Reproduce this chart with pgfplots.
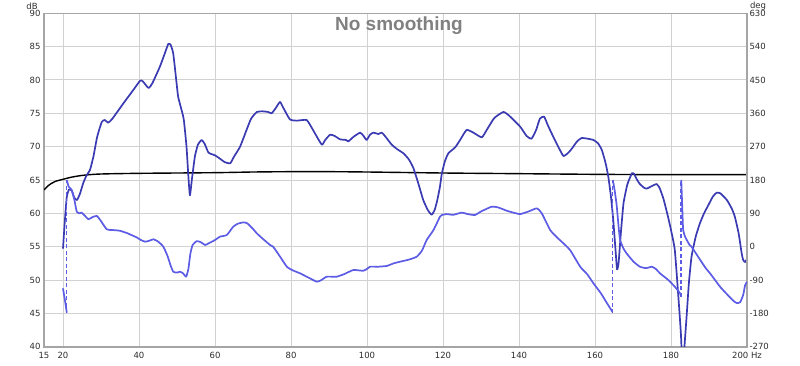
\documentclass[border=0pt]{standalone}
\usepackage{pgfplots}
\pgfplotsset{compat=1.18}
\usepackage{fontspec}
\setmainfont{DejaVu Sans}
\newfontfamily\titlefont{Liberation Sans}
\definecolor{spl}{RGB}{58,58,178}
\definecolor{ph}{RGB}{92,92,228}
\definecolor{gridc}{RGB}{210,210,210}
\definecolor{framec}{RGB}{165,165,165}
\definecolor{tickc}{RGB}{45,45,45}
\definecolor{titlec}{RGB}{128,128,128}
\begin{document}
\begin{tikzpicture}[x=1pt,y=1pt]
\useasboundingbox (0,0) rectangle (800,365);
\begin{axis}[
  at={(44pt,18.3pt)}, anchor=south west,
  scale only axis, width=703pt, height=333.4pt,
  xmin=15, xmax=200, ymin=40, ymax=90,
  xtick={15,20,40,60,80,100,120,140,160,180,200},
  xticklabels={15,20,40,60,80,100,120,140,160,180,200 Hz},
  ytick={40,45,...,90},
  grid=major, major grid style={gridc, line width=1pt},
  axis line style={framec, line width=1.6pt},
  tick style={draw=none},
  ticklabel style={font=\fontsize{8.5}{10}\selectfont, text=tickc},
  /pgf/number format/assume math mode=true,
  xticklabel style={yshift=-1.5pt, text height=6.5pt, text depth=0pt, anchor=north},
]
% black curve
\addplot[black, line width=1.4pt, smooth] coordinates {
(15,63.5) (16,64.1) (17,64.5) (18,64.8) (20,65.1) (22,65.4) (24,65.6) (26,65.75) (30,65.9) (40,66.0) (60,66.1) (70,66.2) (80,66.25) (90,66.25) (100,66.2) (120,66.05) (140,65.95) (160,65.85) (180,65.8) (200,65.8)};
% SPL
\addplot[spl, line width=1.7pt, smooth, tension=0.3, line join=round] coordinates {
(20,54.7) (20.5,59) (21,62.5) (21.6,63.6) (22.3,63.4) (23.0,62.3) (23.7,62.0) (24.5,63.0) (25.3,64.5) (26.2,65.7) (27.1,66.5) (28.0,68.5) (29.0,71.5) (30.2,73.7) (31.0,74.0) (31.9,73.6) (33.0,74.2) (35.9,76.5) (38.5,78.5) (40.3,79.9) (41.0,79.8) (42.5,78.8) (43.5,79.5) (45.5,82.0) (46.8,84.0) (47.7,85.4) (48.3,85.3) (49.0,84.0) (49.8,80) (50.3,77.5) (51.2,75.5) (51.8,74.0) (52.5,70) (53.0,65.5) (53.4,62.7) (53.9,65) (54.7,68.5) (55.5,70.3) (56.5,71.0) (57.3,70.4) (58.3,69.1) (60.0,68.7) (61.3,68.2) (62.5,67.7) (64.0,67.5) (65.0,68.5) (66.6,70.0) (68.3,72.5) (69.5,74.2) (71.0,75.2) (72.5,75.3) (74.0,75.2) (74.9,75.0) (76.0,75.8) (77.1,76.7) (78.0,75.8) (79.7,74.1) (81.5,73.9) (84.1,74.0) (85.5,72.8) (86.3,72.0) (88.1,70.3) (89.0,71.0) (90.3,71.8) (91.5,71.6) (92.9,71.1) (94.5,71.0) (95.1,70.8) (96.5,71.5) (98.2,72.1) (99.1,71.6) (99.9,71.0) (100.8,71.8) (101.7,72.1) (103.0,71.9) (103.9,72.1) (105.0,71.4) (106.5,70.3) (108.0,69.6) (109.6,69.0) (111.0,68.1) (112.2,66.8) (113.5,64.5) (114.8,62.0) (116.0,60.5) (117.0,59.8) (117.8,60.5) (118.5,62) (119.2,64) (119.7,66.0) (120.5,67.8) (121.4,69.0) (123.2,69.9) (124.5,71.0) (126.2,72.5) (128.0,72.1) (130.2,71.4) (131.5,72.5) (133.5,74.3) (135.9,75.2) (137.5,74.6) (140.3,73.0) (142.0,71.6) (143.3,71.2) (144.5,72.5) (145.5,74.2) (146.6,74.5) (147.6,73.2) (149.0,71.5) (150.5,69.8) (151.7,68.6) (153.0,69.1) (153.9,69.7) (155.3,70.8) (156.5,71.3) (158.0,71.2) (159.6,71.0) (160.8,70.5) (161.8,69.5) (162.8,67.5) (163.5,65.5) (164.2,62.5) (164.8,59) (165.4,54.5) (165.8,51.6) (166.2,52.5) (166.8,57) (167.5,61.5) (168.5,64.3) (169.7,66.0) (170.3,65.9) (171.0,65.1) (171.8,64.4) (173.0,63.8) (173.6,63.7) (175.0,64.1) (176.2,64.4) (177.0,63.8) (178.0,62.2) (179.0,60) (180.0,57.5) (181.0,54.5) (182.0,47) (182.6,42) (183.0,37) (183.4,39) (184.1,44.5) (184.7,49.5) (185.4,53.5) (186.5,56.5) (187.6,58.5) (188.7,60) (189.8,61.2) (191.0,62.5) (192.0,63.1) (193.0,63.0) (194.7,62.0) (196.0,60.7) (196.8,59.5) (197.8,57.0) (198.6,54.0) (199.0,53.0) (199.5,52.7) (200.0,53.2)};
\end{axis}
\begin{axis}[
  at={(44pt,18.3pt)}, anchor=south west,
  scale only axis, width=703pt, height=333.4pt,
  xmin=15, xmax=200, ymin=-270, ymax=630,
  axis x line=none, axis y line*=right,
  ytick={-270,-180,...,630},
  axis line style={framec, line width=1.6pt},
  tick style={draw=none},
  ticklabel style={font=\fontsize{8.5}{10}\selectfont, text=tickc},
  /pgf/number format/assume math mode=true,
  yticklabel style={xshift=-1pt},
]
\addplot[ph, line width=1.7pt, smooth, tension=0.3] coordinates {
(20,-112.5) (20.5,-144) (21,-178)};
\addplot[ph, line width=1.7pt, smooth, tension=0.3, line join=round] coordinates {
(21,180) (21.5,162) (22.3,153) (23.0,126) (23.6,95) (24.3,90) (24.9,92) (25.8,83) (26.7,74) (27.8,80) (28.9,83) (29.8,72) (31.5,47) (33,45) (35,43) (37,36) (39.4,25) (40.5,18) (41.6,13.5) (42.7,16) (43.8,20) (45,14) (46.4,0) (47.5,-25) (48.3,-50) (49,-67.5) (50,-70) (50.8,-67.5) (51.6,-72) (52.4,-81) (53,-60) (53.5,-20) (54.1,4.5) (55.2,15) (56.3,12) (57.4,4.5) (58.5,10) (60,18) (61.3,27) (63.1,31.5) (64.8,54) (66,62) (67.5,65.7) (68.5,63) (70,48) (71,36) (72.5,22) (74.5,4.5) (75.3,0) (77,-25) (78.9,-54) (80.5,-64) (82.4,-72) (84.5,-83) (86.8,-94.5) (88,-90) (89.4,-81) (92,-81) (94,-74) (96.4,-63) (99,-65) (100,-60) (100.8,-54) (103,-54) (105.2,-52) (107,-45) (108.7,-40.5) (111,-35) (113.1,-27) (114.5,-10) (115.7,18) (117.5,45) (119.2,81) (119.7,85.5) (121,88) (122.7,86) (124.9,92) (126.5,88) (128.4,85.5) (130,95) (132.8,108) (134.5,106) (136.8,97) (138.5,92) (140.3,88) (142.5,95) (144.7,103.5) (146,90) (148.2,45) (150,25) (151.7,9) (153.5,-10) (156.1,-54) (158,-75) (159.6,-99) (161.5,-125) (163,-150) (164.6,-176)};
\addplot[ph, line width=1.7pt, smooth, tension=0.3, line join=round] coordinates {
(164.7,180) (165.2,150) (165.7,112) (166.2,55) (166.6,18) (167.5,-5) (168.3,-18) (170.1,-40) (171.8,-54) (173.5,-58) (174.9,-54) (176,-60) (177.1,-72) (179.3,-90) (181,-108) (182.4,-126) (182.6,-135)};
\addplot[ph, line width=1.7pt, smooth, tension=0.3, line join=round] coordinates {
(182.7,180) (182.95,110) (183.2,45) (183.8,25) (184.9,4.5) (185.4,0) (187,-25) (189,-56) (190.5,-75) (192.9,-108) (194.5,-126) (196.4,-146) (197.3,-152) (198.2,-150) (199,-130) (199.5,-104) (200,-95)};
\addplot[ph, line width=1.3pt, dash pattern=on 4pt off 2.5pt] coordinates {(21,-180) (21,180)};
\addplot[ph, line width=1.3pt, dash pattern=on 4pt off 2.5pt] coordinates {(164.6,-180) (164.6,180)};
\addplot[ph, line width=1.3pt, dash pattern=on 4pt off 2.5pt] coordinates {(182.6,-135) (182.6,180)};
\end{axis}
\node[font=\fontsize{8.5}{10}\selectfont, text=tickc] at (32,359) {dB};
\node[font=\fontsize{8.5}{10}\selectfont, text=tickc] at (758,359) {deg};
\node[font=\titlefont\bfseries\fontsize{19}{22}\selectfont, text=titlec, anchor=base] at (399,334.3) {No smoothing};
\end{tikzpicture}
\end{document}
